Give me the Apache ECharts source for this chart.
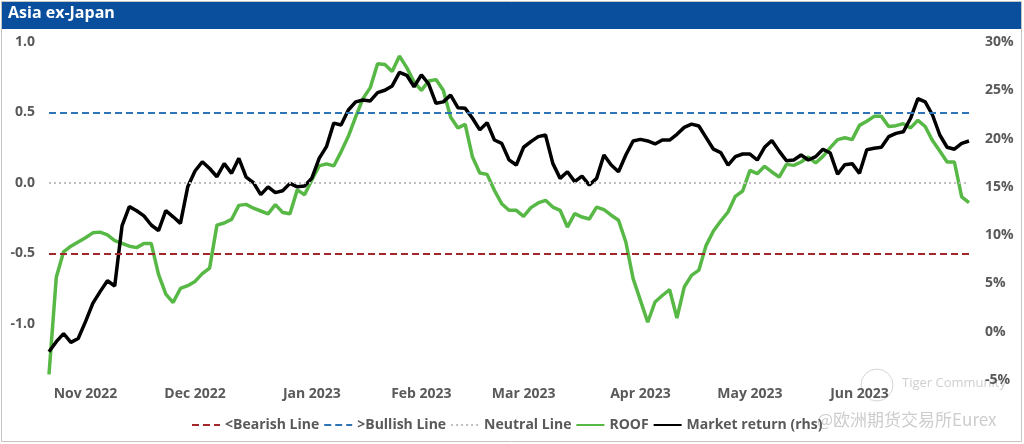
<!DOCTYPE html>
<html>
<head>
<meta charset="utf-8">
<title>Asia ex-Japan</title>
<script src="https://cdn.jsdelivr.net/npm/echarts@6/dist/echarts.min.js"></script>
<style>
  html, body { margin: 0; padding: 0; background: #fff; }
  #chart { width: 1024px; height: 444px; }
</style>
</head>
<body>
<div id="chart"></div>
<script>
// categories: one point every 2 days from 22 Oct 2022 to end of June 2023
var startDate = '2022-10-22';
var stepDays = 2;
var pointCount = 127;
var monthNames = ['Jan', 'Feb', 'Mar', 'Apr', 'May', 'Jun', 'Jul', 'Aug', 'Sep', 'Oct', 'Nov', 'Dec'];

var dates = [];
var d0 = new Date(startDate + 'T00:00:00Z');
for (var i = 0; i < pointCount; i++) {
    var d = new Date(d0.getTime() + i * stepDays * 86400000);
    dates.push(d.toISOString().slice(0, 10));
}

// ROOF indicator (left axis)
var roof = [
    -1.36, -0.67, -0.49, -0.45, -0.42, -0.39, -0.355, -0.35, -0.37, -0.41,
    -0.43, -0.45, -0.46, -0.43, -0.43, -0.65, -0.79, -0.85, -0.75, -0.73,
    -0.70, -0.645, -0.605, -0.30, -0.285, -0.26, -0.16, -0.153, -0.18, -0.20,
    -0.22, -0.155, -0.21, -0.22, -0.05, -0.085, 0.02, 0.12, 0.135, 0.12,
    0.22, 0.33, 0.468, 0.598, 0.676, 0.846, 0.84, 0.79, 0.90, 0.818,
    0.716, 0.657, 0.723, 0.733, 0.657, 0.468, 0.39, 0.415, 0.183, 0.07,
    0.06, -0.053, -0.148, -0.195, -0.195, -0.238, -0.176, -0.143, -0.124, -0.172,
    -0.195, -0.314, -0.219, -0.243, -0.257, -0.172, -0.19, -0.23, -0.266, -0.42,
    -0.68, -0.835, -0.99, -0.846, -0.80, -0.759, -0.96, -0.74, -0.657, -0.62,
    -0.444, -0.342, -0.271, -0.207, -0.096, -0.058, 0.089, 0.065, 0.117, 0.077,
    0.041, 0.131, 0.124, 0.148, 0.183, 0.141, 0.188, 0.25, 0.307, 0.32,
    0.307, 0.408, 0.437, 0.472, 0.472, 0.40, 0.406, 0.42, 0.39, 0.444,
    0.40, 0.30, 0.226, 0.148, 0.148, -0.10, -0.14
];

// Market return in % (right axis)
var marketReturn = [
    -2.07, -1.03, -0.2, -1.1, -0.7, 1.04, 2.94, 4.15, 5.28, 4.73,
    10.95, 12.95, 12.53, 12.0, 11.05, 10.46, 12.53, 11.9, 11.22, 15.0,
    16.64, 17.6, 16.9, 16.05, 17.4, 16.4, 17.95, 16.0, 15.43, 14.2,
    15.0, 14.4, 14.6, 15.36, 15.0, 15.09, 15.9, 17.95, 19.16, 21.6,
    21.4, 22.96, 23.8, 24.0, 23.9, 24.75, 25.0, 25.45, 26.86, 26.55,
    25.37, 26.6, 25.65, 23.65, 23.8, 24.5, 23.2, 23.13, 22.1, 20.9,
    21.65, 19.85, 19.5, 17.8, 17.26, 19.1, 19.68, 20.2, 20.37, 17.43,
    15.88, 16.57, 15.54, 16.12, 15.19, 15.88, 18.3, 17.26, 16.57, 18.3,
    19.75, 19.92, 19.75, 19.44, 19.85, 19.85, 20.44, 21.16, 21.5, 21.3,
    20.1, 18.9, 18.54, 17.26, 18.13, 18.4, 18.4, 17.78, 19.1, 19.8,
    18.7, 17.7, 17.78, 18.3, 17.78, 18.13, 18.9, 18.5, 16.3, 17.3,
    17.4, 16.4, 18.85, 19.0, 19.1, 20.2, 20.54, 20.7, 22.1, 24.13,
    23.8, 22.44, 20.37, 19.1, 18.9, 19.5, 19.75
];

// threshold lines
var bearishLevel = -0.5;
var bullishLevel = 0.5;
var neutralLevel = 0;

var leftMin = -1.4, leftMax = 1.0;
var rightMin = -5, rightMax = 30, rightStep = 5;

var labelFont = { color: '#595959', fontWeight: 'bold', fontSize: 14, fontFamily: 'Open Sans' };

// month label on the first point of each month (the last point closes June)
function isFirstOfMonth(index) {
    if (index === 0 || index === dates.length - 1) return false;
    return dates[index].slice(0, 7) !== dates[index - 1].slice(0, 7);
}

function thresholdSeries(name, level, color, dash) {
    return {
        name: name,
        type: 'line',
        yAxisIndex: 0,
        data: [],
        symbol: 'none',
        silent: true,
        lineStyle: { color: color, type: dash, width: 2 },
        itemStyle: { color: color },
        markLine: {
            silent: true,
            symbol: ['none', 'none'],
            label: { show: false },
            lineStyle: { color: color, type: dash, width: 2 },
            data: [{ yAxis: level }]
        }
    };
}

var chart = echarts.init(document.getElementById('chart'));
var option = {
    animation: false,
    backgroundColor: '#fff',
    graphic: [
        { type: 'rect', shape: { x: 1.5, y: 1.5, width: 1020, height: 440 },
          style: { fill: 'none', stroke: '#c4c4c4', lineWidth: 1 }, z: 0 },
        { type: 'rect', shape: { x: 2, y: 2, width: 1019, height: 27 },
          style: { fill: '#0a4f9d' }, z: 1 },
        { type: 'text', left: 8, top: 5,
          style: { text: 'Asia ex-Japan', fill: '#fff', font: 'bold 16px "Open Sans"' }, z: 2 },
        { type: 'circle', shape: { cx: 877, cy: 385, r: 16 },
          style: { fill: 'none', stroke: '#d6d6d6', lineWidth: 1 }, z: 0 },
        { type: 'text', left: 902, top: 377,
          style: { text: 'Tiger Community', fill: '#cfcfcf', font: '13px "Open Sans"' }, z: 0 },
        { type: 'text', left: 817, top: 411,
          style: { text: '@欧洲期货交易所Eurex', fill: '#cdcdcd', font: '17px "Noto Sans CJK SC"' }, z: 0 }
    ],
    legend: {
        left: 186,
        top: 413,
        itemWidth: 28,
        itemHeight: 10,
        itemGap: 4,
        itemStyle: { opacity: 0 },
        textStyle: labelFont,
        data: ['<Bearish Line', '>Bullish Line', 'Neutral Line', 'ROOF', 'Market return (rhs)']
    },
    grid: { left: 49, right: 55, top: 42, bottom: 64 },
    xAxis: {
        type: 'category',
        boundaryGap: false,
        data: dates,
        axisLine: { show: false },
        axisTick: { show: false },
        splitLine: { show: false },
        axisLabel: Object.assign({
            margin: 7,
            interval: function (index) { return isFirstOfMonth(index); },
            formatter: function (value) {
                return monthNames[parseInt(value.slice(5, 7), 10) - 1] + ' ' + value.slice(0, 4);
            }
        }, labelFont)
    },
    yAxis: [
        {
            type: 'value',
            min: leftMin,
            max: leftMax,
            interval: 0.1,
            axisLine: { show: false },
            axisTick: { show: false },
            splitLine: { show: false },
            axisLabel: Object.assign({
                margin: 14,
                formatter: function (v) {
                    var r = Math.round(v * 10) / 10;
                    if (Math.abs(r * 2 - Math.round(r * 2)) > 1e-6) return '';
                    return (r === 0 ? 0 : r).toFixed(1);
                }
            }, labelFont)
        },
        {
            type: 'value',
            min: rightMin,
            max: rightMax,
            interval: rightStep,
            axisLine: { show: false },
            axisTick: { show: false },
            splitLine: { show: false },
            axisLabel: Object.assign({ margin: 16, formatter: '{value}%' }, labelFont)
        }
    ],
    series: [
        thresholdSeries('<Bearish Line', bearishLevel, '#a3262a', [7, 4]),
        thresholdSeries('>Bullish Line', bullishLevel, '#2e75b6', [7, 4]),
        thresholdSeries('Neutral Line', neutralLevel, '#bfbfbf', [2, 3]),
        {
            name: 'ROOF',
            type: 'line',
            yAxisIndex: 0,
            data: roof,
            symbol: 'none',
            lineStyle: { color: '#57b846', width: 3.5 },
            itemStyle: { color: '#57b846' },
            z: 3
        },
        {
            name: 'Market return (rhs)',
            type: 'line',
            yAxisIndex: 1,
            data: marketReturn,
            symbol: 'none',
            lineStyle: { color: '#000', width: 3.5 },
            itemStyle: { color: '#000' },
            z: 4
        }
    ]
};
chart.setOption(option);
</script>
</body>
</html>
